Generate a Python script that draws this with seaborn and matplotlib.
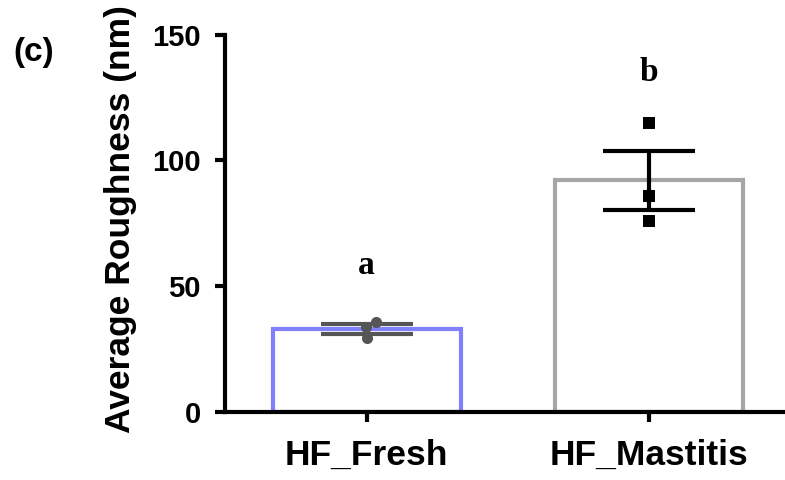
import pandas as pd
import numpy as np
import matplotlib
matplotlib.use("Agg")
import matplotlib.pyplot as plt
import seaborn as sns

# valores (nm)
groups = ["HF_Fresh", "HF_Mastitis"]
fresh_vals = [35.7, 29.3, 33.7]
mastitis_vals = [114.7, 85.7, 75.7]
letters = ["a", "b"]
letter_y = [58, 135]

edge_colors = ["#8080ff", "#a6a6a6"]
point_colors = ["#555555", "#000000"]
markers = ["o", "s"]
marker_sizes = [8, 9]

df = pd.DataFrame({
    "group": [groups[0]] * len(fresh_vals) + [groups[1]] * len(mastitis_vals),
    "rough": fresh_vals + mastitis_vals,
})

sns.set_style("ticks")
plt.rcParams["font.family"] = ["Liberation Sans", "DejaVu Sans"]
plt.rcParams["font.weight"] = "bold"
plt.rcParams["text.color"] = "black"
plt.rcParams["axes.labelcolor"] = "black"

fig = plt.figure(figsize=(7.85, 4.8), dpi=100)
ax = fig.add_axes([0.287, 0.142, 0.713, 0.786])

# barras sin relleno, solo el borde de color
sns.barplot(data=df, x="group", y="rough", hue="group", order=groups,
            hue_order=groups, palette=edge_colors, fill=False, linewidth=3,
            width=0.665, errorbar=None, legend=False, ax=ax)

# media +/- error estandar
stats = df.groupby("group")["rough"].agg(["mean", "sem"]).reindex(groups)
for i, g in enumerate(groups):
    ax.errorbar(i, stats.loc[g, "mean"], yerr=stats.loc[g, "sem"],
                color=point_colors[i], capsize=33, elinewidth=3, capthick=3,
                zorder=4)

# puntos individuales
for i, g in enumerate(groups):
    sns.swarmplot(data=df[df["group"] == g], x="group", y="rough", order=groups,
                  color=point_colors[i], marker=markers[i], size=marker_sizes[i],
                  zorder=5, ax=ax)

for i, lt in enumerate(letters):
    ax.text(i, letter_y[i], lt, ha="center", va="center", fontsize=24,
            fontweight="bold", color="black",
            family=["Liberation Serif", "DejaVu Serif"])

ax.set_xlim(-0.5, 1.48)
ax.set_ylim(0, 150)
ax.set_yticks([0, 50, 100, 150])
sns.despine(ax=ax)
for s in ["left", "bottom"]:
    ax.spines[s].set_linewidth(3)
    ax.spines[s].set_color("black")
ax.tick_params(axis="both", width=3, length=7.5, color="black", labelcolor="black")
ax.tick_params(axis="y", labelsize=21, pad=10)
ax.tick_params(axis="x", labelsize=25.5, pad=12)
ax.set_xlabel("")
ax.set_ylabel("Average Roughness (nm)", fontsize=25.5, fontweight="bold",
              color="black")
ax.yaxis.set_label_coords(-0.157, 0.51)

fig.text(0.017, 0.89, "(c)", fontsize=24, fontweight="bold", va="center",
         color="black")

fig.savefig("out.png", dpi=100)
